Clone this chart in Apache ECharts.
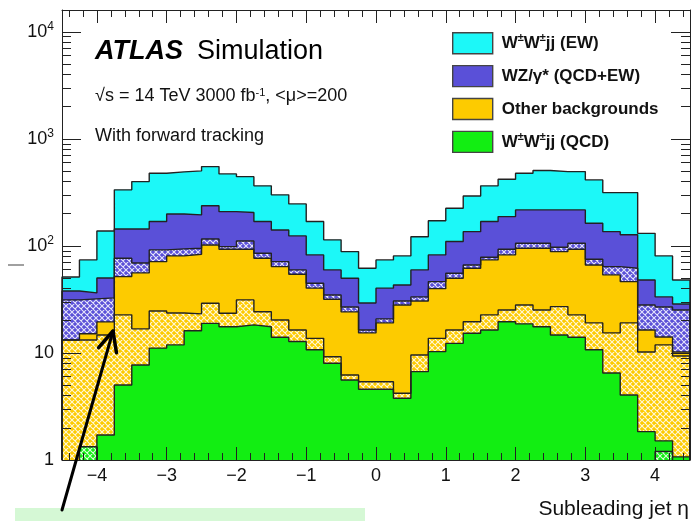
<!DOCTYPE html>
<html>
<head>
<meta charset="utf-8">
<script src="https://cdn.jsdelivr.net/npm/echarts@6/dist/echarts.min.js"></script>
<style>
html,body{margin:0;padding:0;background:#ffffff;}
#chart{width:691px;height:521px;}
</style>
</head>
<body>
<div id="chart"></div>
<script>
// ---------------- data ----------------
// bin edges of the subleading-jet eta histogram
const binEdges = [-4.5,-4.25,-4,-3.75,-3.5,-3.25,-3,-2.75,-2.5,-2.25,-2,-1.75,-1.5,-1.25,-1,-0.75,-0.5,-0.25,
                  0,0.25,0.5,0.75,1,1.25,1.5,1.75,2,2.25,2.5,2.75,3,3.25,3.5,3.75,4,4.25,4.5];

// stacked level (top edge) of each layer, per bin
const topEW = [51.3,74.0,138,334,399,478,492,502,551,471,444,364,300,247,169,114,88.5,61.9,
               74.0,80.7,122,172,225,293,364,420,478,506,495,495,414,315,315,131,80.7,48.1];
const topWZ = [37.9,36.4,50.2,144,144,169,199,195,237,209,205,169,141,124,82.4,59.7,49.9,29.3,
               40.3,43.2,59.7,82.4,110,136,169,188,217,217,217,217,163,136,127,48.1,33.4,28.7];
const topWZHatched = [31.3,32.0,32.7,76.7,69.3,91.8,93.8,95.1,116,98.5,111,85.5,71.3,59.7,44.8,34.8,26.9,16.4,
                      20.8,30.6,33.4,46.4,55.6,66.4,78.4,93.1,106,106,97.2,106,75.1,64.1,61.9,28.1,26.9,25.2];
const topOther = [13.2,15.1,19.5,51.7,56.0,71.3,80.7,83.6,102,93.1,93.1,76.7,64.1,54.4,40.3,31.8,24.2,15.4,
                  19.1,28.1,30.6,39.9,49.9,61.9,74.0,82.4,95.1,95.1,88.5,93.1,66.4,53.6,46.4,16.4,14.1,10.2];
const topOtherHatched = [13.2,13.2,14.7,22.7,16.8,24.7,23.6,23.2,29.1,23.5,31.3,24.3,20.3,16.4,13.7,9.23,6.23,5.39,
                         5.39,4.20,9.58,13.7,16.4,19.6,22.7,25.2,28.1,25.2,27.1,22.7,19.1,15.4,19.1,10.2,11.9,9.38];
const topQCD = [null,null,1.71,5.02,7.72,11.1,11.9,16.1,18.9,17.6,18.3,17.6,14.0,12.8,10.7,8.01,5.59,4.58,
                4.58,3.77,6.69,10.3,12.3,15.3,16.4,19.6,18.7,17.6,14.7,14.0,10.7,6.50,4.05,1.84,1.51,1.07];
const topQCDHatched = [null,1.33,null,null,null,null,null,null,null,null,null,null,null,null,null,null,null,null,
                       null,null,null,null,null,null,null,null,null,null,null,null,null,null,null,null,1.20,null];

// legend / series names
const nameEW = 'W±W±jj (EW)';
const nameWZ = 'WZ/γ* (QCD+EW)';
const nameOther = 'Other backgrounds';
const nameQCD = 'W±W±jj (QCD)';

// axis ticks
const xMajorTicks = [-4,-3,-2,-1,0,1,2,3,4];
const xMinorTicks = [-4.4,-4.2,-3.8,-3.6,-3.4,-3.2,-2.8,-2.6,-2.4,-2.2,-1.8,-1.6,-1.4,-1.2,-0.8,-0.6,-0.4,-0.2,
                     0.2,0.4,0.6,0.8,1.2,1.4,1.6,1.8,2.2,2.4,2.6,2.8,3.2,3.4,3.6,3.8,4.2,4.4];
const yMajorTicks = [1,10,100,1000,10000];
const yMinorTicks = [2,3,4,5,6,7,8,9,20,30,40,50,60,70,80,90,200,300,400,500,600,700,800,900,
                     2000,3000,4000,5000,6000,7000,8000,9000];
const X_MIN = -4.5, X_MAX = 4.5, Y_MIN = 1, Y_MAX = 16000;

// ---------------- style ----------------
const FONT = '"Liberation Sans", Arial, Helvetica, sans-serif';
const INK = '#111111';
const EDGE = '#222222';
const C_EW = '#1cf8f8';
const C_WZ = '#5a50d8';
const C_OTHER = '#fdcb00';
const C_QCD = '#12ee12';

function hatch(base) {
  const s = 6;
  const cv = document.createElement('canvas');
  cv.width = s; cv.height = s;
  const g = cv.getContext('2d');
  g.fillStyle = base; g.fillRect(0, 0, s, s);
  g.strokeStyle = 'rgba(255,255,255,0.85)';
  g.lineWidth = 1.1;
  g.beginPath();
  for (let k = -1; k <= 1; k++) {
    g.moveTo(k * s - 1, -1); g.lineTo(k * s + s + 1, s + 1);
    g.moveTo(k * s + s + 1, -1); g.lineTo(k * s - 1, s + 1);
  }
  g.stroke();
  return { image: cv, repeat: 'repeat' };
}

// turn per-bin tops into a step outline through the axis scales
function stepPoints(tops) {
  const pts = [];
  let run = false;
  for (let i = 0; i < tops.length; i++) {
    const v = tops[i];
    if (v == null) {
      if (run) { pts.push([binEdges[i], Y_MIN]); pts.push([binEdges[i], null]); run = false; }
      continue;
    }
    if (!run) { pts.push([binEdges[i], Y_MIN]); run = true; }
    pts.push([binEdges[i], v], [binEdges[i + 1], v]);
  }
  if (run) pts.push([binEdges[tops.length], Y_MIN]);
  return pts;
}

function layer(name, tops, fill) {
  return {
    type: 'line', name: name, xAxisIndex: 0, yAxisIndex: 0,
    data: stepPoints(tops),
    symbol: 'none', showSymbol: false, clip: true, silent: true, animation: false,
    connectNulls: false,
    lineStyle: { color: EDGE, width: 1.4 },
    areaStyle: { color: fill, opacity: 1, origin: 'start' },
    emphasis: { disabled: true },
    z: 2
  };
}

function supText(name) {
  return name.split('±').map(p => p ? '{t|' + p + '}' : '').join('{s|±}');
}

const tickLine = { color: EDGE, width: 1 };

function xAx(grid, pos, ticks, len, label, line) {
  return {
    gridIndex: grid, type: 'value', min: X_MIN, max: X_MAX, position: pos, z: 10,
    axisLine: { show: line, onZero: false, lineStyle: { color: EDGE, width: 1 } },
    axisTick: { show: true, inside: true, length: len, customValues: ticks, lineStyle: tickLine },
    axisLabel: label ? {
      show: true, customValues: ticks, margin: 7, fontSize: 18, fontFamily: FONT, color: INK,
      formatter: v => (v < 0 ? '\u2212' + Math.abs(v) : String(v))
    } : { show: false },
    splitLine: { show: false }, minorTick: { show: false }
  };
}

function yAx(grid, pos, ticks, len, label, line) {
  return {
    gridIndex: grid, type: 'log', logBase: 10, min: Y_MIN, max: Y_MAX, position: pos, z: 10,
    axisLine: { show: line, onZero: false, lineStyle: { color: EDGE, width: 1 } },
    axisTick: { show: true, inside: true, length: len, customValues: ticks, lineStyle: tickLine },
    axisLabel: label ? {
      show: true, customValues: ticks, margin: 8,
      formatter: v => {
        if (v < 5) return '{b|1}';
        if (v < 50) return '{b|10}';
        return '{b|10}{s|' + Math.round(Math.log10(v)) + '}';
      },
      rich: {
        b: { fontSize: 18, fontFamily: FONT, color: INK, lineHeight: 22 },
        s: { fontSize: 12, fontFamily: FONT, color: INK, lineHeight: 12, verticalAlign: 'top' }
      }
    } : { show: false },
    splitLine: { show: false }, minorTick: { show: false }
  };
}

// arrow annotation geometry (screen annotation, not data)
const arrowTail = [62, 510], arrowTip = [113, 331];
function arrowHead(tail, tip, len, ang) {
  const dx = tail[0] - tip[0], dy = tail[1] - tip[1];
  const d = Math.hypot(dx, dy), ux = dx / d, uy = dy / d;
  const a = ang * Math.PI / 180, c = Math.cos(a), s = Math.sin(a);
  return [
    [tip[0] + len * (ux * c - uy * s), tip[1] + len * (ux * s + uy * c)],
    tip,
    [tip[0] + len * (ux * c + uy * s), tip[1] + len * (-ux * s + uy * c)]
  ];
}

const chart = echarts.init(document.getElementById('chart'), null, { renderer: 'canvas' });
chart.setOption({
  backgroundColor: '#ffffff',
  animation: false,
  grid: [
    { left: 62, right: 1, top: 10, bottom: 61, show: false, containLabel: false, outerBoundsMode: 'none' },
    { left: 62, right: 1, top: 10, bottom: 61, show: false, containLabel: false, outerBoundsMode: 'none' }
  ],
  xAxis: [
    xAx(0, 'bottom', xMajorTicks, 13, true, true),
    xAx(0, 'top', xMajorTicks, 13, false, true),
    xAx(1, 'bottom', xMinorTicks, 7, false, false),
    xAx(1, 'top', xMinorTicks, 7, false, false)
  ],
  yAxis: [
    yAx(0, 'left', yMajorTicks, 19, true, true),
    yAx(0, 'right', yMajorTicks, 19, false, true),
    yAx(1, 'left', yMinorTicks, 9, false, false),
    yAx(1, 'right', yMinorTicks, 9, false, false)
  ],
  legend: {
    show: true, orient: 'vertical', left: 452, top: 32, padding: 0,
    itemWidth: 40, itemHeight: 21, itemGap: 10.5, icon: 'rect', selectedMode: false,
    itemStyle: { borderColor: '#444444', borderWidth: 1.4 },
    formatter: supText,
    textStyle: {
      padding: [0, 0, 0, 4],
      rich: {
        t: { fontSize: 17, fontWeight: 'bold', fontFamily: FONT, color: INK, lineHeight: 21 },
        s: { fontSize: 11, fontWeight: 'bold', fontFamily: FONT, color: INK, lineHeight: 11, verticalAlign: 'top' }
      }
    },
    data: [
      { name: nameEW, itemStyle: { color: C_EW } },
      { name: nameWZ, itemStyle: { color: C_WZ } },
      { name: nameOther, itemStyle: { color: C_OTHER } },
      { name: nameQCD, itemStyle: { color: C_QCD } }
    ]
  },
  series: [
    layer(nameEW, topEW, C_EW),
    layer(nameWZ, topWZ, C_WZ),
    layer(nameWZ + ' (hatched)', topWZHatched, hatch(C_WZ)),
    layer(nameOther, topOther, C_OTHER),
    layer(nameOther + ' (hatched)', topOtherHatched, hatch(C_OTHER)),
    layer(nameQCD, topQCD, C_QCD),
    layer(nameQCD + ' (hatched)', topQCDHatched, hatch(C_QCD))
  ],
  graphic: [
    { type: 'text', x: 95, y: 52, z: 20,
      style: { text: 'ATLAS', font: 'italic bold 27px ' + FONT, fill: '#000', align: 'left', verticalAlign: 'middle', textAlign: 'left', textVerticalAlign: 'middle' } },
    { type: 'text', x: 197, y: 52, z: 20,
      style: { text: 'Simulation', font: '27px ' + FONT, fill: '#000', align: 'left', verticalAlign: 'middle', textAlign: 'left', textVerticalAlign: 'middle' } },
    { type: 'text', x: 95, y: 96, z: 20,
      style: { text: '√s = 14 TeV 3000 fb{s|-1}, <μ>=200', font: '18px ' + FONT, fill: INK,
               align: 'left', verticalAlign: 'middle', textAlign: 'left', textVerticalAlign: 'middle',
               rich: { s: { font: '11px ' + FONT, fill: INK, verticalAlign: 'top', lineHeight: 10 } } } },
    { type: 'text', x: 95, y: 136, z: 20,
      style: { text: 'With forward tracking', font: '18px ' + FONT, fill: INK, align: 'left', verticalAlign: 'middle', textAlign: 'left', textVerticalAlign: 'middle' } },
    { type: 'text', x: 689, y: 509, z: 20,
      style: { text: 'Subleading jet η', font: '21px ' + FONT, fill: INK, align: 'right', verticalAlign: 'middle', textAlign: 'right', textVerticalAlign: 'middle' } },
    { type: 'rect', z: 20, shape: { x: 8, y: 264, width: 16, height: 2 }, style: { fill: '#a0a0a0' } },
    { type: 'rect', z: 20, shape: { x: 15, y: 508, width: 350, height: 13 }, style: { fill: '#d5f8d5' } },
    { type: 'polyline', z: 30, shape: { points: [arrowTail, arrowTip] },
      style: { stroke: '#000', lineWidth: 3, lineCap: 'round', fill: null } },
    { type: 'polyline', z: 30, shape: { points: arrowHead(arrowTail, arrowTip, 22, 25) },
      style: { stroke: '#000', lineWidth: 3.5, lineCap: 'round', lineJoin: 'round', fill: null } }
  ]
});
</script>
</body>
</html>
